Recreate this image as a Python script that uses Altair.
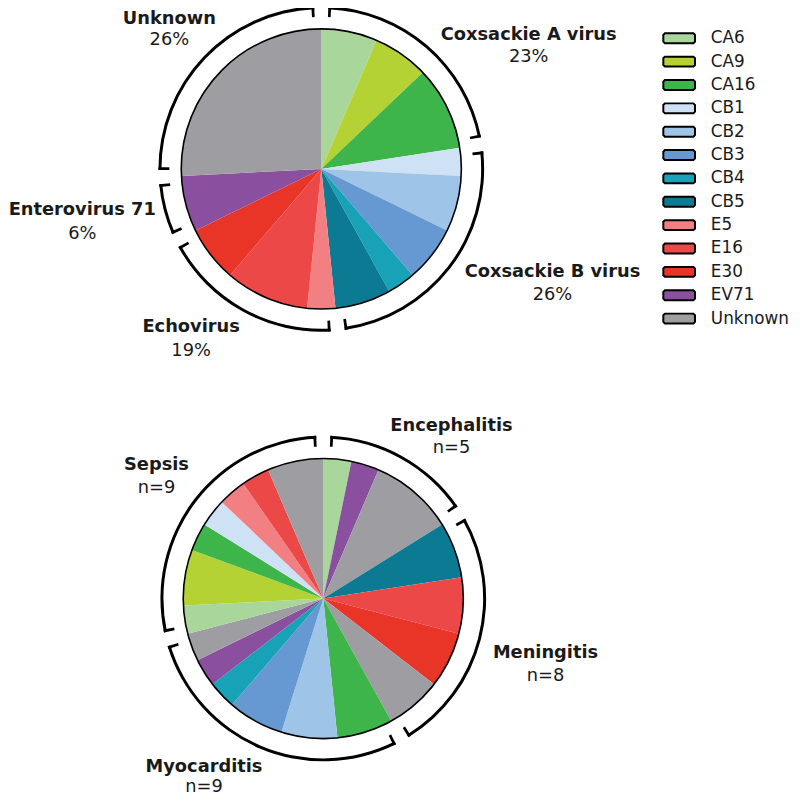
import math
import altair as alt
import pandas as pd

# ---------------- data ----------------
types = ["CA6", "CA9", "CA16", "CB1", "CB2", "CB3", "CB4", "CB5",
         "E5", "E16", "E30", "EV71", "Unknown"]
type_colors = ["#a9d79b", "#b4d234", "#3db54a", "#cfe1f4", "#9ec4e8", "#6699d1",
               "#18a2b8", "#0d7a93", "#f27f82", "#ec4848", "#e93428", "#8b4f9f", "#9d9da2"]

# top pie: cases per type (clockwise from 12 o'clock)
top_types = types
top_counts = [2, 2, 3, 1, 2, 2, 1, 2, 1, 3, 2, 2, 8]
top_groups = ["Coxsackie A virus"] * 3 + ["Coxsackie B virus"] * 5 + ["Echovirus"] * 3 + \
             ["Enterovirus 71", "Unknown"]
top_group_names = ["Coxsackie A virus", "Coxsackie B virus", "Echovirus", "Enterovirus 71", "Unknown"]
top_group_values = ["23%", "26%", "19%", "6%", "26%"]

# bottom pie: cases per type within each disease (clockwise from 12 o'clock)
bottom_types = ["CA6", "EV71", "Unknown",
                "CB5", "E16", "E30", "Unknown",
                "CA16", "CB2", "CB3", "CB4", "EV71", "Unknown",
                "CA6", "CA9", "CA16", "CB1", "E5", "E16", "Unknown"]
bottom_counts = [1, 1, 3,
                 2, 2, 2, 2,
                 2, 2, 2, 1, 1, 1,
                 1, 2, 1, 1, 1, 1, 2]
bottom_groups = ["Encephalitis"] * 3 + ["Meningitis"] * 4 + ["Myocarditis"] * 6 + ["Sepsis"] * 7
bottom_group_names = ["Encephalitis", "Meningitis", "Myocarditis", "Sepsis"]
bottom_group_values = ["n=5", "n=8", "n=9", "n=9"]

# ---------------- layout ----------------
W, H = 792, 794
OFF = 8
TOTAL = sum(top_counts)
R = 141.5
R_BR_OUT, R_BR_IN, R_TICK_IN = 164.5, 161.5, 153.5
GAP_DEG = 2.5
TICK_PX = 2.8
top_center = (324.5 - OFF, 166.5 - OFF)
bot_center = (326.5 - OFF, 600.5 - OFF)
FONT = "DejaVu Sans"

# label positions (page px): center x, y of name line, y of value line
top_label_pos = {
    "Coxsackie A virus": (534, 31, 54),
    "Coxsackie B virus": (558, 271, 294),
    "Echovirus": (193, 326, 350),
    "Enterovirus 71": (83, 208, 232),
    "Unknown": (171, 15.5, 36),
}
bot_label_pos = {
    "Encephalitis": (456, 426, 448),
    "Meningitis": (551, 656, 679),
    "Myocarditis": (206, 771, 791),
    "Sepsis": (158, 466, 489),
}

theta_scale = alt.Scale(domain=[0, TOTAL], range=[0, 2 * math.pi])
color_scale = alt.Scale(domain=types, range=type_colors)

# wide swatch (32 x 10 px at symbolSize 256) with slightly clipped corners
rect_path = "M-1.8,-0.625H1.8L2,-0.425V0.425L1.8,0.625H-1.8L-2,0.425V-0.425Z"


def pie_layers(tps, cnts, grps, gnames, gvals, center, label_pos, with_legend):
    cx, cy = center
    df = pd.DataFrame({"type": tps, "count": cnts, "group": grps, "order": range(len(tps))})
    color_kw = dict(scale=color_scale, sort=types)
    if with_legend:
        legend = alt.Legend(title=None, orient="none", legendX=669 - OFF, legendY=25.5 - OFF,
                            symbolType=rect_path, symbolSize=256, symbolStrokeColor="black",
                            symbolStrokeWidth=2, symbolOpacity=1, symbolOffset=8,
                            labelFontSize=17, labelFont=FONT, labelColor="#1a1a1a",
                            rowPadding=5.6, labelOffset=23, padding=0)
        color = alt.Color("type:N", legend=legend, **color_kw)
    else:
        color = alt.Color("type:N", legend=None, **color_kw)
    slices = alt.Chart(df).transform_window(
        end="sum(count)", sort=[alt.SortField("order")], frame=[None, 0]
    ).transform_calculate(start="datum.end - datum.count").mark_arc(radius=R).encode(
        theta=alt.Theta("start:Q", scale=theta_scale),
        theta2="end:Q",
        color=color,
        x=alt.value(cx), y=alt.value(cy),
    )
    outline = alt.Chart(pd.DataFrame({"a": [0], "b": [TOTAL]})).mark_arc(
        radius=R, fillOpacity=0, stroke="black", strokeWidth=1.6
    ).encode(theta=alt.Theta("a:Q", scale=theta_scale), theta2="b:Q",
             x=alt.value(cx), y=alt.value(cy))

    # brackets around each group
    gtot = df.groupby("group", sort=False)["count"].sum()
    ends = gtot.cumsum()
    starts = ends - gtot
    gap = GAP_DEG / 360 * TOTAL
    tick_w = (TICK_PX / ((R_BR_OUT + R_TICK_IN) / 2)) / (2 * math.pi) * TOTAL
    br = pd.DataFrame({"s": (starts + gap).values, "e": (ends - gap).values})
    ticks = pd.DataFrame({
        "s": list((starts + gap).values) + list((ends - gap - tick_w).values),
        "e": list((starts + gap + tick_w).values) + list((ends - gap).values),
    })
    arcs = alt.Chart(br).mark_arc(radius=R_BR_OUT, radius2=R_BR_IN, color="black").encode(
        theta=alt.Theta("s:Q", scale=theta_scale), theta2="e:Q",
        x=alt.value(cx), y=alt.value(cy))
    tk = alt.Chart(ticks).mark_arc(radius=R_BR_OUT, radius2=R_TICK_IN, color="black").encode(
        theta=alt.Theta("s:Q", scale=theta_scale), theta2="e:Q",
        x=alt.value(cx), y=alt.value(cy))

    lab = pd.DataFrame({
        "name": gnames, "val": gvals,
        "x": [label_pos[g][0] - OFF for g in gnames],
        "y1": [label_pos[g][1] - OFF for g in gnames],
        "y2": [label_pos[g][2] - OFF for g in gnames],
    })
    xs = alt.Scale(domain=[0, W], range=[0, W])
    ys = alt.Scale(domain=[0, H], range=[0, H])
    names = alt.Chart(lab).mark_text(fontSize=18, fontWeight="bold", font=FONT,
                                     color="#1a1a1a", baseline="middle", align="center").encode(
        x=alt.X("x:Q", scale=xs, axis=None), y=alt.Y("y1:Q", scale=ys, axis=None), text="name:N")
    vals = alt.Chart(lab).mark_text(fontSize=18, font=FONT, color="#1a1a1a",
                                    baseline="middle", align="center").encode(
        x=alt.X("x:Q", scale=xs, axis=None), y=alt.Y("y2:Q", scale=ys, axis=None), text="val:N")
    return [slices, outline, arcs, tk, names, vals]


layers = pie_layers(top_types, top_counts, top_groups, top_group_names, top_group_values,
                    top_center, top_label_pos, True) + \
         pie_layers(bottom_types, bottom_counts, bottom_groups, bottom_group_names,
                    bottom_group_values, bot_center, bot_label_pos, False)

chart = alt.layer(*layers).properties(
    width=W, height=H, padding=0,
    autosize=alt.AutoSizeParams(type="none"),
).configure_view(stroke=None)

chart.save("out.html", embed_options={"renderer": "svg", "actions": False})
